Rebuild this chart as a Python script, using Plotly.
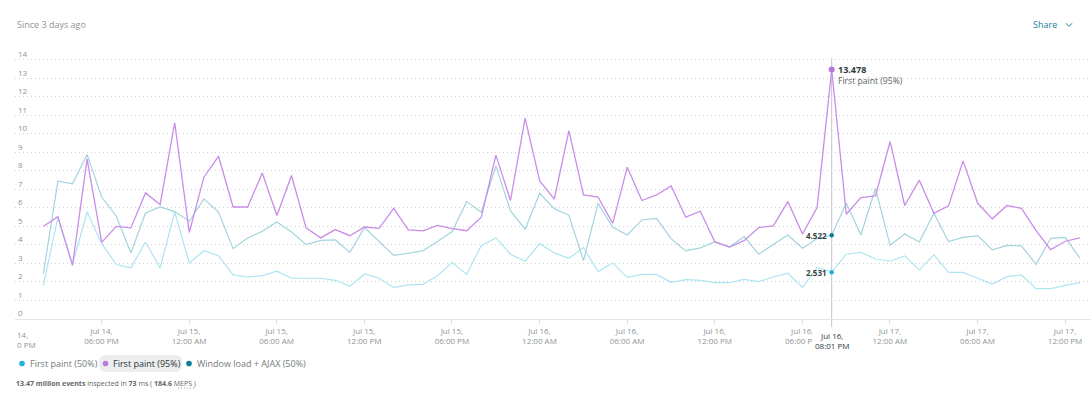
import plotly.graph_objects as go
import pandas as pd

# ---------------- data ----------------
start_time = "2023-07-14 14:01"
n_points = 72
series_names = ["First paint (50%)", "First paint (95%)", "Window load + AJAX (50%)"]

fp50 = [1.8, 5.46, 2.95, 5.78, 4.07, 2.94, 2.76, 4.16, 2.76, 5.77,
        3.03, 3.69, 3.42, 2.38, 2.27, 2.34, 2.58, 2.2, 2.2, 2.2,
        2.09, 1.77, 2.43, 2.2, 1.69, 1.84, 1.87, 2.34, 3.05, 2.41,
        3.96, 4.38, 3.5, 3.12, 4.07, 3.57, 3.28, 3.86, 2.56, 3.03,
        2.25, 2.41, 2.41, 1.98, 2.13, 2.09, 1.96, 1.96, 2.14, 2.02,
        2.27, 2.47, 1.71, 2.79, 2.531, 3.5, 3.6, 3.24, 3.12, 3.41,
        2.65, 3.46, 2.52, 2.52, 2.2, 1.89, 2.29, 2.38, 1.64, 1.64,
        1.82, 1.96]

fp95 = [5.0, 5.53, 2.9, 8.65, 4.14, 5.0, 4.92, 6.81, 6.18, 10.6,
        4.68, 7.66, 8.79, 6.05, 6.05, 7.89, 5.59, 7.75, 4.92, 4.38,
        4.83, 4.5, 4.97, 4.9, 5.98, 4.81, 4.76, 5.06, 4.88, 4.77,
        5.5, 8.85, 6.4, 10.85, 7.46, 6.47, 10.18, 6.7, 6.58, 5.17,
        8.2, 6.4, 6.7, 7.19, 5.5, 5.82, 4.16, 3.89, 4.23, 4.94,
        5.03, 6.34, 4.59, 6.02, 13.478, 5.66, 6.56, 6.65, 9.59, 6.13,
        7.5, 5.71, 6.11, 8.54, 6.25, 5.41, 6.13, 5.98, 4.77, 3.75,
        4.2, 4.38]

wl50 = [2.43, 7.46, 7.3, 8.88, 6.59, 5.55, 3.57, 5.73, 6.05, 5.8,
        5.28, 6.49, 5.78, 3.8, 4.38, 4.74, 5.24, 4.7, 4.02, 4.25,
        4.27, 3.6, 4.94, 4.18, 3.44, 3.55, 3.69, 4.18, 4.72, 6.34,
        5.77, 8.27, 5.84, 4.85, 6.79, 5.96, 5.6, 3.15, 6.25, 4.95,
        4.54, 5.35, 5.44, 4.34, 3.68, 3.84, 4.18, 3.89, 4.45, 3.5,
        4.02, 4.54, 3.82, 4.35, 4.522, 6.25, 4.54, 7.06, 3.98, 4.59,
        4.16, 5.71, 4.18, 4.41, 4.5, 3.73, 3.98, 3.95, 2.95, 4.36,
        4.41, 3.28]

hover_index = 54
hover_label = "Jul 16,<br>08:01 PM"
cut_tick_label = "14,<br>0 PM"
footer = ("<b>13.47 million events</b> inspected in <b>73</b> ms "
          "( <b>184.6</b> MEPS )")

times = pd.date_range(start_time, periods=n_points, freq="h")

# ---------------- layout helpers ----------------
W, H = 1091, 393
L, R, T, B = 15, 0, 45.2, 74
PW = W - L - R
PH = H - T - B


def px(x):
    return (x - L) / PW


def py(y):
    return (H - B - y) / PH


FONT = "Open Sans"
GRAY = "#8e9494"

line_colors = {"fp50": "#ade5f2", "wl50": "#a3d3de", "fp95": "#c88de8"}
dot_colors = ["#1cb3d8", "#bb77dc", "#0b7c99"]

fig = go.Figure()
fig.add_trace(go.Scatter(x=times, y=fp50, mode="lines", name=series_names[0],
                         line=dict(color=line_colors["fp50"], width=1.2),
                         showlegend=False, hoverinfo="skip"))
fig.add_trace(go.Scatter(x=times, y=wl50, mode="lines", name=series_names[2],
                         line=dict(color=line_colors["wl50"], width=1.2),
                         showlegend=False, hoverinfo="skip"))
fig.add_trace(go.Scatter(x=times, y=fp95, mode="lines", name=series_names[1],
                         line=dict(color=line_colors["fp95"], width=1.3),
                         showlegend=False, hoverinfo="skip"))

hx = times[hover_index]
for vals, col, sz in [(fp95, dot_colors[1], 6), (wl50, dot_colors[2], 4.5),
                      (fp50, dot_colors[0], 4.5)]:
    fig.add_trace(go.Scatter(x=[hx], y=[vals[hover_index]], mode="markers",
                             marker=dict(color=col, size=sz, line=dict(width=0)),
                             showlegend=False, hoverinfo="skip"))

shapes = []
# hover guide line
shapes.append(dict(type="line", xref="x", yref="paper", x0=hx, x1=hx,
                   y0=py(327), y1=py(58), line=dict(color="#c4c4c4", width=1),
                   layer="between"))
# legend pill (selected series)
pw_, ph_, r_ = 83, 17, 7
hw, hh = pw_ / 2, ph_ / 2
pill = (f"M {-hw + r_},{-hh} L {hw - r_},{-hh} Q {hw},{-hh} {hw},{-hh + r_} "
        f"L {hw},{hh - r_} Q {hw},{hh} {hw - r_},{hh} L {-hw + r_},{hh} "
        f"Q {-hw},{hh} {-hw},{hh - r_} L {-hw},{-hh + r_} Q {-hw},{-hh} {-hw + r_},{-hh} Z")
shapes.append(dict(type="path", xref="paper", yref="paper",
                   xsizemode="pixel", ysizemode="pixel",
                   xanchor=px(140.5), yanchor=py(363.5), path=pill,
                   fillcolor="#eceeee", line=dict(width=0), layer="below"))
# legend dots
for cx, col in [(22, dot_colors[0]), (105.5, dot_colors[1]), (189, dot_colors[2])]:
    shapes.append(dict(type="circle", xref="paper", yref="paper",
                       xsizemode="pixel", ysizemode="pixel",
                       xanchor=px(cx), yanchor=py(363.5),
                       x0=-2.8, x1=2.8, y0=-2.8, y1=2.8,
                       fillcolor=col, line=dict(width=0)))
# share chevron
shapes.append(dict(type="path", xref="paper", yref="paper",
                   path=f"M {px(1066)},{py(23.5)} L {px(1069)},{py(26.5)} L {px(1072)},{py(23.5)}",
                   line=dict(color="#1a8394", width=1)))
# MEPS dotted underline
shapes.append(dict(type="line", xref="paper", yref="paper",
                   x0=px(178), x1=px(195), y0=py(388), y1=py(388),
                   line=dict(color="#9aa0a0", width=1, dash="1px,2px")))

ann = []
ann.append(dict(text="Since 3 days ago", xref="paper", yref="paper",
                x=px(15), y=py(25), xanchor="left", yanchor="middle",
                showarrow=False, font=dict(family=FONT, size=9, color=GRAY)))
ann.append(dict(text="Share", xref="paper", yref="paper",
                x=px(1059), y=py(25), xanchor="right", yanchor="middle",
                showarrow=False, font=dict(family=FONT, size=9, color="#1a8394")))
# hover texts
ann.append(dict(text=f"<b>{fp95[hover_index]:.3f}</b>", xref="x", yref="y",
                x=hx, y=fp95[hover_index], xanchor="left", yanchor="middle",
                xshift=4, showarrow=False,
                font=dict(family=FONT, size=9, color="#2d3a3a")))
ann.append(dict(text=series_names[1], xref="x", yref="y",
                x=hx, y=fp95[hover_index], xanchor="left", yanchor="middle",
                xshift=4, yshift=-12, showarrow=False,
                font=dict(family=FONT, size=8.6, color="#5a6464")))
for vals in (wl50, fp50):
    ann.append(dict(text=f"<b>{vals[hover_index]:.3f}</b>", xref="x", yref="y",
                    x=hx, y=vals[hover_index], xanchor="right", yanchor="middle",
                    xshift=-3, showarrow=False,
                    font=dict(family=FONT, size=8, color="#3a4444")))
ann.append(dict(text=hover_label, xref="x", yref="paper", x=hx, y=py(326.5),
                xanchor="center", yanchor="top", showarrow=False,
                bgcolor="white", borderpad=2,
                font=dict(family=FONT, size=8, color="#2d3a3a")))
ann.append(dict(text=cut_tick_label, xref="paper", yref="paper", x=0,
                y=py(326.5), xanchor="left", yanchor="top", align="left",
                showarrow=False, font=dict(family=FONT, size=8, color=GRAY)))
# legend texts
for tx, name, col in [(28, series_names[0], "#737b7b"),
                      (111, series_names[1], "#293338"),
                      (195, series_names[2], "#737b7b")]:
    ann.append(dict(text=name, xref="paper", yref="paper", x=px(tx), y=py(363.5),
                    xanchor="left", yanchor="middle", showarrow=False,
                    font=dict(family=FONT, size=9, color=col)))
ann.append(dict(text=footer, xref="paper", yref="paper", x=px(14), y=py(383),
                xanchor="left", yanchor="middle", showarrow=False,
                font=dict(family=FONT, size=7, color="#5f6868")))

x_start = times[0] - pd.Timedelta(hours=1.938)
x_end = times[0] + pd.Timedelta(hours=71.76)

fig.update_layout(
    width=W, height=H,
    margin=dict(l=L, r=R, t=T, b=B, pad=0),
    paper_bgcolor="white", plot_bgcolor="white",
    font=dict(family=FONT, size=8, color=GRAY),
    showlegend=False,
    shapes=shapes, annotations=ann,
    xaxis=dict(type="date", range=[x_start, x_end], tick0="2023-07-14 00:00",
               dtick=6 * 3600 * 1000, tickformat="%b %-d,<br>%I:%M %p",
               tickfont=dict(family=FONT, size=8, color=GRAY),
               ticks="outside", ticklen=4, tickcolor="#dcdede",
               showline=True, linecolor="#e3e5e5", linewidth=1,
               showgrid=False, zeroline=False, fixedrange=True),
    yaxis=dict(range=[0, 14.8], tick0=0, dtick=1,
               showgrid=True, gridcolor="#cfd3d3", griddash="1px,3px", gridwidth=1,
               ticklabelposition="inside top",
               tickfont=dict(family=FONT, size=8, color=GRAY),
               zeroline=False, showline=False, ticks="", fixedrange=True),
    hovermode=False,
)

fig.write_html("out.html", config={"displayModeBar": False},
               post_script="document.body.style.margin='0';document.body.style.padding='0';")
